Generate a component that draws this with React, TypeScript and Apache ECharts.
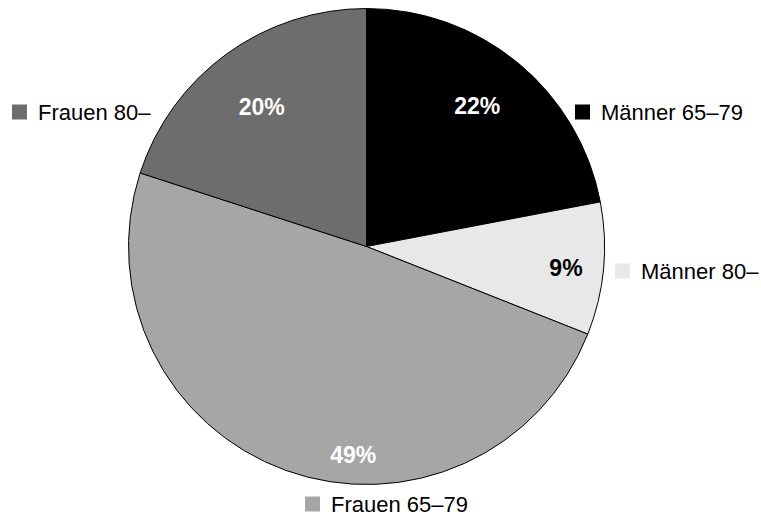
import React, { useEffect, useRef } from "react";
import * as echarts from "echarts";

const categories = ["Männer 65–79", "Männer 80–", "Frauen 65–79", "Frauen 80–"];
const values = [22, 9, 49, 20];
const colors = ["#000000", "#e8e8e8", "#a6a6a6", "#6d6d6d"];
const labelColors = ["#ffffff", "#000000", "#ffffff", "#ffffff"];

const FONT = "'Liberation Sans', Arial, sans-serif";

// label offsets from default inside position
const labelShift = [
  [33, -46],
  [78, 10],
  [28, 94],
  [-33, -41],
];

// legend placement (left, top) for each category
const legendPos = [
  { left: 575, top: 100 },
  { left: 615, top: 259 },
  { left: 305, top: 492 },
  { left: 12, top: 100 },
];

export default function App() {
  const ref = useRef<HTMLDivElement>(null);
  useEffect(() => {
    if (!ref.current) return;
    const chart = echarts.init(ref.current, null, { renderer: "svg" });
    chart.setOption({
      animation: false,
      backgroundColor: "#ffffff",
      legend: categories.map((name, i) => ({
        data: [name],
        left: legendPos[i].left,
        top: legendPos[i].top,
        width: 200,
        orient: "horizontal",
        icon: "rect",
        itemWidth: 15,
        itemHeight: 15,
        itemGap: 0,
        padding: 0,
        selectedMode: false,
        itemStyle: { borderWidth: 0 },
        textStyle: {
          fontFamily: FONT,
          fontSize: 22,
          color: "#000",
          padding: [0, 0, 0, 6],
          lineHeight: 24,
        },
      })),
      series: [
        {
          type: "pie",
          center: [366.5, 246.5],
          radius: 238,
          startAngle: 90,
          clockwise: true,
          avoidLabelOverlap: false,
          itemStyle: { borderColor: "#000", borderWidth: 1 },
          emphasis: { disabled: true },
          label: {
            show: true,
            position: "inside",
            formatter: "{d}%",
            fontFamily: FONT,
            fontSize: 23,
            fontWeight: "bold",
          },
          labelLine: { show: false },
          labelLayout: (params: any) => ({
            dx: labelShift[params.dataIndex][0],
            dy: labelShift[params.dataIndex][1],
          }),
          data: categories.map((name, i) => ({
            name,
            value: values[i],
            itemStyle: { color: colors[i] },
            label: { color: labelColors[i] },
          })),
        },
      ],
    });
    return () => chart.dispose();
  }, []);
  return (
    <div
      ref={ref}
      style={{ position: "fixed", left: 0, top: 0, width: 761, height: 518 }}
    />
  );
}
